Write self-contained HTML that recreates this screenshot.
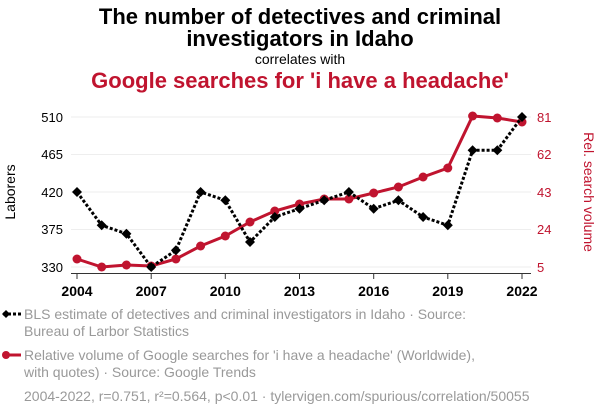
<!DOCTYPE html>
<html><head><meta charset="utf-8"><style>
body{margin:0;width:600px;height:414px;background:#fff;font-family:"Liberation Sans",sans-serif;overflow:hidden}
</style></head><body>
<svg width="600" height="414" xmlns="http://www.w3.org/2000/svg" font-family="Liberation Sans, sans-serif">
<text x="300" y="24" text-anchor="middle" font-size="22" font-weight="bold" fill="#000">The number of detectives and criminal</text>
<text x="300" y="46" text-anchor="middle" font-size="22" font-weight="bold" fill="#000">investigators in Idaho</text>
<text x="300" y="64" text-anchor="middle" font-size="14" fill="#000">correlates with</text>
<text x="300" y="88" text-anchor="middle" font-size="22" font-weight="bold" fill="#c0142f">Google searches for 'i have a headache'</text>
<g stroke="#eee" stroke-width="1">
<line x1="71" x2="531" y1="117" y2="117"/><line x1="71" x2="531" y1="154.5" y2="154.5"/><line x1="71" x2="531" y1="192" y2="192"/><line x1="71" x2="531" y1="229.5" y2="229.5"/><line x1="71" x2="531" y1="267" y2="267"/>
</g>
<line x1="71" x2="531" y1="273.5" y2="273.5" stroke="#333" stroke-width="1"/>
<g stroke="#333"><line x1="77" x2="77" y1="273" y2="279"/><line x1="151.2" x2="151.2" y1="273" y2="279"/><line x1="225.3" x2="225.3" y1="273" y2="279"/><line x1="299.5" x2="299.5" y1="273" y2="279"/><line x1="373.7" x2="373.7" y1="273" y2="279"/><line x1="447.8" x2="447.8" y1="273" y2="279"/><line x1="522" x2="522" y1="273" y2="279"/></g>
<g font-size="14" font-weight="bold" text-anchor="middle" fill="#000">
<text x="77" y="296">2004</text><text x="151.2" y="296">2007</text><text x="225.3" y="296">2010</text><text x="299.5" y="296">2013</text><text x="373.7" y="296">2016</text><text x="447.8" y="296">2019</text><text x="522" y="296">2022</text></g>
<g font-size="13" text-anchor="end" fill="#000"><text x="63" y="122">510</text><text x="63" y="159">465</text><text x="63" y="197">420</text><text x="63" y="234">375</text><text x="63" y="272">330</text></g>
<g font-size="13" fill="#c0142f"><text x="537" y="122">81</text><text x="537" y="159">62</text><text x="537" y="197">43</text><text x="537" y="234">24</text><text x="537" y="272">5</text></g>
<text transform="translate(15,192) rotate(-90)" text-anchor="middle" font-size="14" fill="#000">Laborers</text>
<text transform="translate(584,192) rotate(90)" text-anchor="middle" font-size="14" fill="#c0142f">Rel. search volume</text>
<polyline fill="none" stroke="#c0142f" stroke-width="3" points="77,259 101.7,267 126.4,265 151.2,266 175.9,259 200.6,246 225.3,236 250,222 274.8,211 299.5,204 324.2,199 348.9,199 373.7,193 398.4,187 423.1,177 447.8,168 472.6,116 497.3,118 522,122"/>
<g fill="#c0142f"><circle cx="77" cy="259" r="4.5"/><circle cx="101.7" cy="267" r="4.5"/><circle cx="126.4" cy="265" r="4.5"/><circle cx="151.2" cy="266" r="4.5"/><circle cx="175.9" cy="259" r="4.5"/><circle cx="200.6" cy="246" r="4.5"/><circle cx="225.3" cy="236" r="4.5"/><circle cx="250" cy="222" r="4.5"/><circle cx="274.8" cy="211" r="4.5"/><circle cx="299.5" cy="204" r="4.5"/><circle cx="324.2" cy="199" r="4.5"/><circle cx="348.9" cy="199" r="4.5"/><circle cx="373.7" cy="193" r="4.5"/><circle cx="398.4" cy="187" r="4.5"/><circle cx="423.1" cy="177" r="4.5"/><circle cx="447.8" cy="168" r="4.5"/><circle cx="472.6" cy="116" r="4.5"/><circle cx="497.3" cy="118" r="4.5"/><circle cx="522" cy="122" r="4.5"/></g>
<polyline fill="none" stroke="#000" stroke-width="3" stroke-dasharray="3,2" points="77,192 101.7,225.3 126.4,233.7 151.2,267 175.9,250.3 200.6,192 225.3,200.3 250,242 274.8,217 299.5,208.7 324.2,200.3 348.9,192 373.7,208.7 398.4,200.3 423.1,217 447.8,225.3 472.6,150.3 497.3,150.3 522,117"/>
<g fill="#000">
<path d="M77 187l5 5-5 5-5-5z"/><path d="M101.7 220.3l5 5-5 5-5-5z"/><path d="M126.4 228.7l5 5-5 5-5-5z"/><path d="M151.2 262l5 5-5 5-5-5z"/><path d="M175.9 245.3l5 5-5 5-5-5z"/><path d="M200.6 187l5 5-5 5-5-5z"/><path d="M225.3 195.3l5 5-5 5-5-5z"/><path d="M250 237l5 5-5 5-5-5z"/><path d="M274.8 212l5 5-5 5-5-5z"/><path d="M299.5 203.7l5 5-5 5-5-5z"/><path d="M324.2 195.3l5 5-5 5-5-5z"/><path d="M348.9 187l5 5-5 5-5-5z"/><path d="M373.7 203.7l5 5-5 5-5-5z"/><path d="M398.4 195.3l5 5-5 5-5-5z"/><path d="M423.1 212l5 5-5 5-5-5z"/><path d="M447.8 220.3l5 5-5 5-5-5z"/><path d="M472.6 145.3l5 5-5 5-5-5z"/><path d="M497.3 145.3l5 5-5 5-5-5z"/><path d="M522 112l5 5-5 5-5-5z"/></g>
<line x1="3" x2="21" y1="314" y2="314" stroke="#000" stroke-width="3" stroke-dasharray="3,2"/>
<path d="M6 310l4 4-4 4-4-4z" fill="#000"/>
<text x="24" y="319" font-size="14" fill="#999">BLS estimate of detectives and criminal investigators in Idaho · Source:</text>
<text x="24" y="336" font-size="14" fill="#999">Bureau of Larbor Statistics</text>
<line x1="3" x2="21" y1="355" y2="355" stroke="#c0142f" stroke-width="3"/>
<circle cx="6" cy="355" r="4" fill="#c0142f"/>
<text x="24" y="360" font-size="14" fill="#999">Relative volume of Google searches for 'i have a headache' (Worldwide),</text>
<text x="24" y="377" font-size="14" fill="#999">with quotes) · Source: Google Trends</text>
<text x="24" y="401" font-size="14" fill="#999">2004-2022, r=0.751, r²=0.564, p&lt;0.01 · tylervigen.com/spurious/correlation/50055</text>
</svg>
</body></html>
